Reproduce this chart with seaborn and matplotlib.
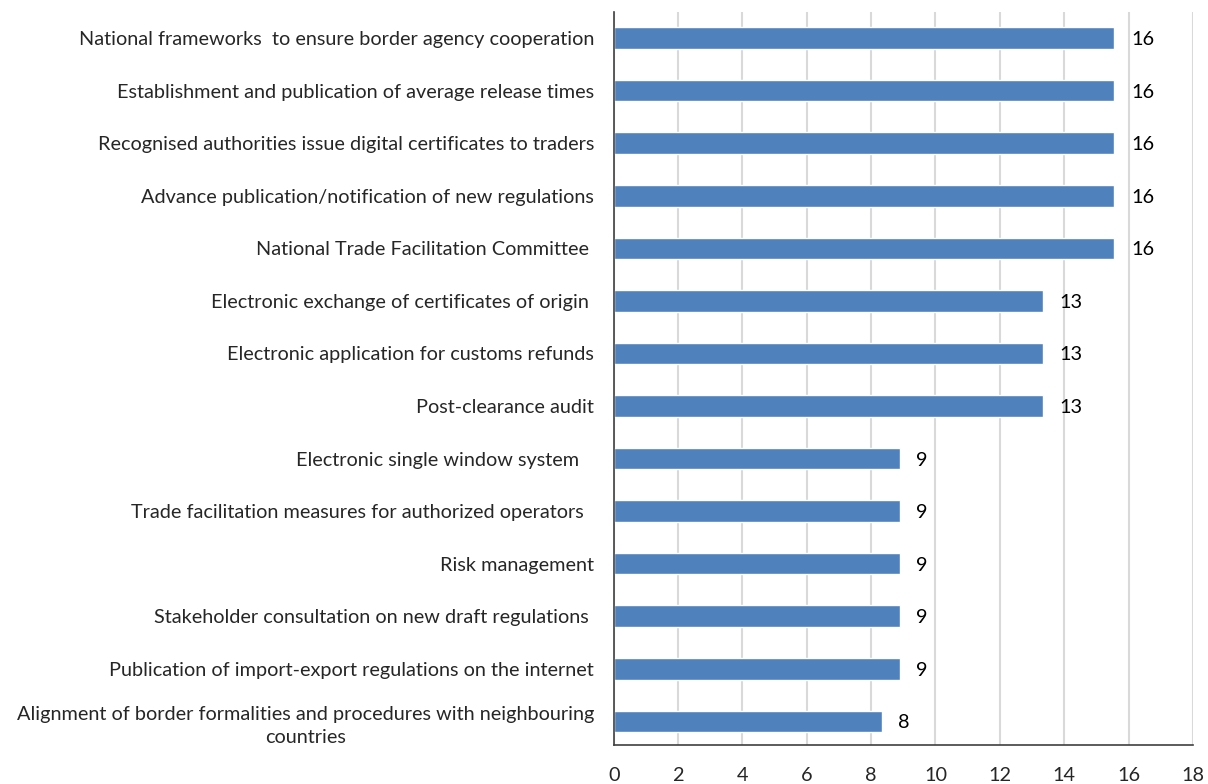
import matplotlib
matplotlib.use("Agg")
import matplotlib.pyplot as plt
import seaborn as sns
import pandas as pd

categories = [
    "National frameworks  to ensure border agency cooperation",
    "Establishment and publication of average release times",
    "Recognised authorities issue digital certificates to traders",
    "Advance publication/notification of new regulations",
    "National Trade Facilitation Committee ",
    "Electronic exchange of certificates of origin ",
    "Electronic application for customs refunds",
    "Post-clearance audit",
    "Electronic single window system   ",
    "Trade facilitation measures for authorized operators  ",
    "Risk management",
    "Stakeholder consultation on new draft regulations ",
    "Publication of import-export regulations on the internet",
    "Alignment of border formalities and procedures with neighbouring\ncountries",
]
values = [15.56, 15.56, 15.56, 15.56, 15.56, 13.33, 13.33, 13.33,
          8.89, 8.89, 8.89, 8.89, 8.89, 8.33]
xticks = [0, 2, 4, 6, 8, 10, 12, 14, 16, 18]

sns.set_theme(style="white")
plt.rcParams['font.family'] = ['Lato', 'DejaVu Sans']

df = pd.DataFrame({"cat": categories, "val": values})

fig = plt.figure(figsize=(12.08, 7.84), dpi=100)
ax = fig.add_axes([0.508, 0.0497, 0.4795, 0.9353])
sns.barplot(data=df, x="val", y="cat", orient="h", color="#4F81BD",
            saturation=1, width=0.41, ax=ax)

texts = ax.bar_label(ax.containers[0], labels=[f"{v:.0f}" for v in values],
                     padding=12, fontsize=14.3, color="#000000")
for t in texts:
    t.set_va("center_baseline")

ax.set_xlim(0, 18)
ax.set_ylim(13.45, -0.5)
ax.set_xticks(xticks)
ax.set_xticklabels([str(t) for t in xticks], fontsize=14.3)
ax.tick_params(axis="x", length=0, pad=16)
ax.tick_params(axis="y", length=0, pad=14, labelsize=14.3)
for lbl in ax.get_yticklabels():
    lbl.set_multialignment("center")
    lbl.set_linespacing(1.45)
ax.set_xlabel("")
ax.set_ylabel("")
ax.grid(axis="x", color="#D9D9D9", linewidth=1.5)
ax.set_axisbelow(True)
for side in ["top", "right"]:
    ax.spines[side].set_visible(False)
for side in ["left", "bottom"]:
    ax.spines[side].set_color("#404040")
    ax.spines[side].set_linewidth(1.2)

fig.savefig("out.png", dpi=100)
